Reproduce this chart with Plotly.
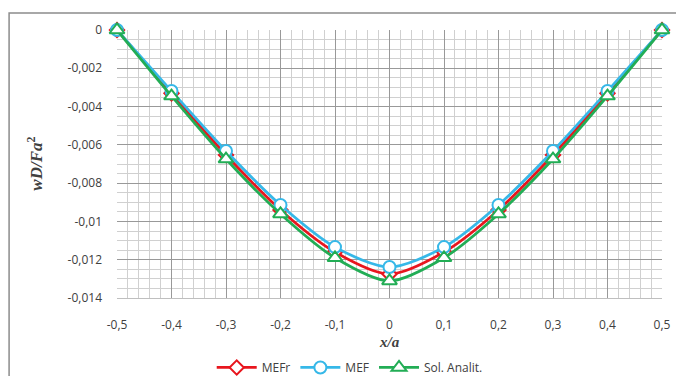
import plotly.graph_objects as go

x_vals = [-0.5, -0.4, -0.3, -0.2, -0.1, 0.0, 0.1, 0.2, 0.3, 0.4, 0.5]
mefr = [0, -0.00331, -0.00653, -0.00940, -0.01160, -0.01275, -0.01160, -0.00940, -0.00653, -0.00331, 0]
mef = [0, -0.00319, -0.00632, -0.00914, -0.01134, -0.01238, -0.01134, -0.00914, -0.00632, -0.00319, 0]
analit = [0, -0.00345, -0.00674, -0.00961, -0.01190, -0.01311, -0.01190, -0.00961, -0.00674, -0.00345, 0]

x_ticks = [-0.5, -0.4, -0.3, -0.2, -0.1, 0, 0.1, 0.2, 0.3, 0.4, 0.5]
x_ticktext = ["-0,5", "-0,4", "-0,3", "-0,2", "-0,1", "0", "0,1", "0,2", "0,3", "0,4", "0,5"]
y_ticks = [0, -0.002, -0.004, -0.006, -0.008, -0.01, -0.012, -0.014]
y_ticktext = ["0", "-0,002", "-0,004", "-0,006", "-0,008", "-0,01", "-0,012", "-0,014"]

series = [
    ("MEFr", mefr, "#e8161e", "diamond", 11),
    ("MEF", mef, "#36b8e8", "circle", 12),
    ("Sol. Analit.", analit, "#22ad55", "triangle-up", 13),
]

fig = go.Figure()
for name, vals, color, sym, size in series:
    fig.add_trace(go.Scatter(
        x=x_vals, y=vals, name=name, mode="lines+markers",
        line=dict(color=color, width=2.75, shape="spline", smoothing=0.8),
        marker=dict(symbol=sym, size=size, color="white",
                    line=dict(color=color, width=2)),
        cliponaxis=False,
    ))

font_fam = "Open Sans, sans-serif"
fig.update_layout(
    width=676, height=368,
    margin=dict(l=109, r=22, t=22, b=78, autoexpand=False),
    paper_bgcolor="white", plot_bgcolor="white",
    font=dict(family=font_fam, size=12, color="#404040"),
    showlegend=True,
    legend=dict(orientation="h", x=0.427, xanchor="center", y=-0.205, yanchor="top",
                font=dict(size=12, color="#404040"), itemwidth=40,
                bgcolor="rgba(0,0,0,0)"),
    xaxis=dict(range=[-0.5, 0.5], tickvals=x_ticks, ticktext=x_ticktext,
               showgrid=True, gridcolor="#999999", gridwidth=1,
               minor=dict(dtick=0.02, showgrid=True, gridcolor="#d0d0d0", gridwidth=1),
               zeroline=False, showline=True, linecolor="#bfbfbf", linewidth=1,
               ticks="", ticklabelstandoff=16, automargin=False),
    yaxis=dict(range=[-0.014, 0], tickvals=y_ticks, ticktext=y_ticktext,
               showgrid=True, gridcolor="#999999", gridwidth=1,
               minor=dict(dtick=0.0005, showgrid=True, gridcolor="#d0d0d0", gridwidth=1),
               zeroline=False, showline=False, ticks="", ticklabelstandoff=14,
               automargin=False),
)

fig.add_annotation(text="<b><i>wD/Fa</i><sup>2</sup></b>", xref="paper", yref="paper",
                   x=-0.175, y=0.5, textangle=-90, showarrow=False,
                   font=dict(family="Liberation Serif, serif", size=17, color="#404040"))
fig.add_annotation(text="<b><i>x/a</i></b>", xref="paper", yref="paper",
                   x=0.5, y=-0.2, showarrow=False,
                   font=dict(family="Liberation Serif, serif", size=15, color="#404040"))

fig.add_shape(type="rect", xref="paper", yref="paper", x0=-0.198, x1=1.06, y0=-0.4, y1=1.063,
              line=dict(color="#8c8c8c", width=1.5), fillcolor="rgba(0,0,0,0)", layer="below")

fig.write_html("out.html")
